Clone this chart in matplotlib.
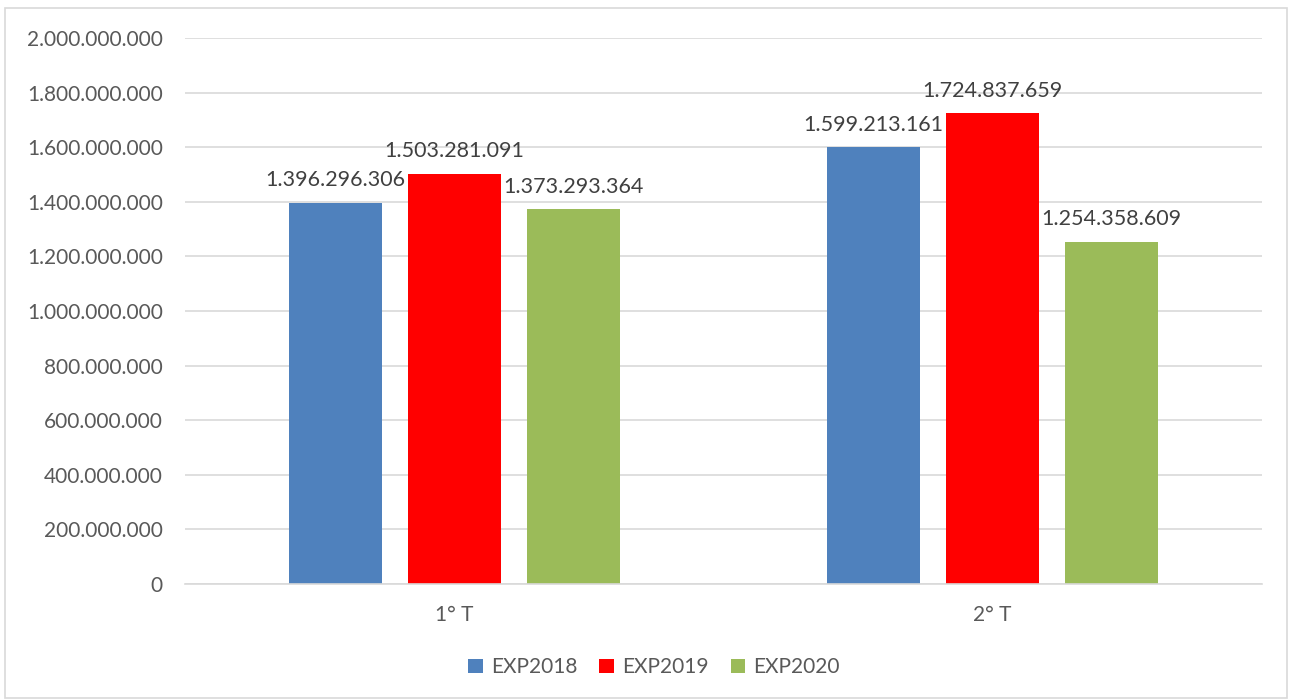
import matplotlib.pyplot as plt
import matplotlib.ticker as ticker
from matplotlib.patches import Rectangle
import numpy as np

plt.rcParams["font.family"] = ["Lato", "DejaVu Sans"]

# 数据
categories = ["1° T", "2° T"]
series_names = ["EXP2018", "EXP2019", "EXP2020"]
exp2018 = [1396296306, 1599213161]
exp2019 = [1503281091, 1724837659]
exp2020 = [1373293364, 1254358609]
colors = ["#4f81bd", "#ff0000", "#9bbb59"]

text_color = "#595959"
grid_color = "#d9d9d9"
font_size = 15
label_size = 15.5


def fmt_dot(v, pos=None):
    # 千位分隔符用点号
    return f"{int(round(v)):,}".replace(",", ".")


fig = plt.figure(figsize=(12.9, 7), dpi=100)
ax = fig.add_axes([0.1434, 0.1657, 0.978 - 0.1434, 0.9457 - 0.1657])

x = np.arange(len(categories))
width = 0.173
offset = 0.221
for i, (name, vals) in enumerate(zip(series_names, [exp2018, exp2019, exp2020])):
    pos = x + (i - 1) * offset
    bars = ax.bar(pos, vals, width=width, color=colors[i], label=name, zorder=3)
    for b, v in zip(bars, vals):
        ax.annotate(fmt_dot(v), (b.get_x() + b.get_width() / 2, v),
                    xytext=(0, 9), textcoords="offset points",
                    ha="center", va="bottom", fontsize=label_size, color="#404040")

ax.set_xlim(-0.5, 1.5)
ax.set_ylim(0, 2e9)
ax.yaxis.set_major_locator(ticker.MultipleLocator(2e8))
ax.yaxis.set_major_formatter(ticker.FuncFormatter(fmt_dot))
ax.set_xticks(x)
ax.set_xticklabels(categories)

ax.grid(axis="y", color=grid_color, linewidth=1.2, zorder=0)
for s in ["top", "right", "left"]:
    ax.spines[s].set_visible(False)
ax.spines["bottom"].set_color(grid_color)
ax.spines["bottom"].set_linewidth(1.2)
ax.spines["bottom"].set_zorder(4)
ax.tick_params(axis="y", length=0, pad=16, labelsize=font_size, labelcolor=text_color)
ax.tick_params(axis="x", length=0, pad=15, labelsize=font_size, labelcolor=text_color)

leg = ax.legend(loc="center", bbox_to_anchor=(0.507, 0.047), bbox_transform=fig.transFigure,
                ncol=3, frameon=False, fontsize=font_size, handlelength=0.7,
                handleheight=0.7, handletextpad=0.4, columnspacing=1.05)
for t in leg.get_texts():
    t.set_color(text_color)

# 外边框
fig.patches.append(Rectangle((5 / 1290, 2 / 700), 1282 / 1290, 690 / 700,
                             transform=fig.transFigure, fill=False,
                             edgecolor=grid_color, linewidth=1.2))

fig.savefig("out.png", dpi=100)
